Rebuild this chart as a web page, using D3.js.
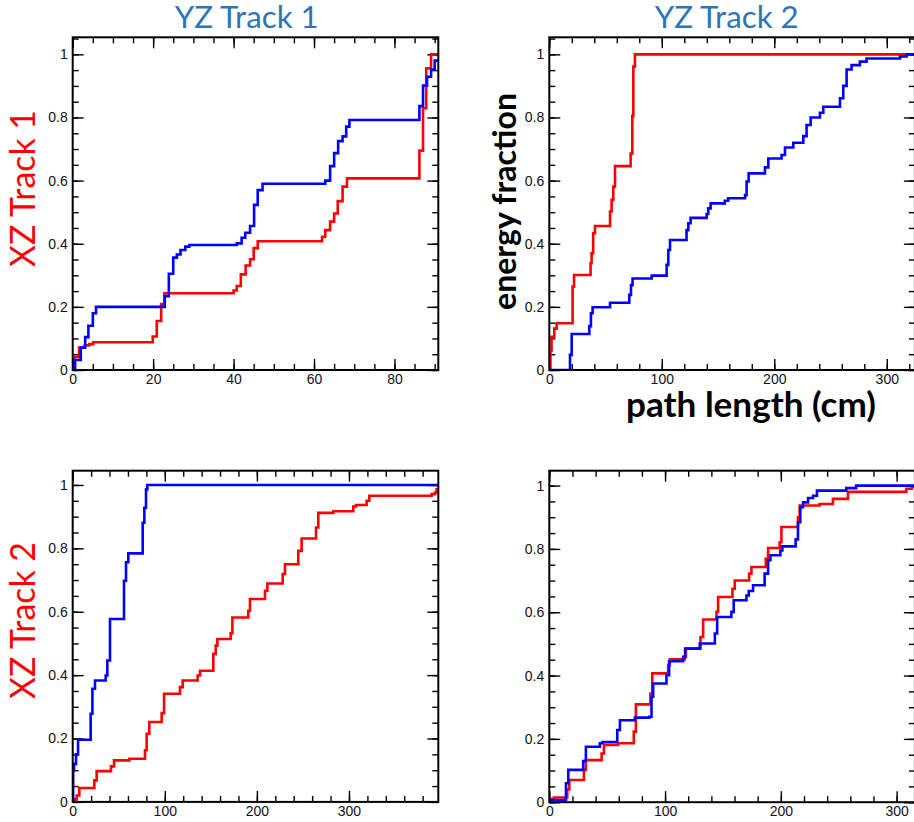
<!DOCTYPE html>
<html>
<head>
<meta charset="utf-8">
<script src="https://cdn.jsdelivr.net/npm/d3@7"></script>
<style>
  body { margin: 0; background: #fff; }
  svg { display: block; }
  .tick text { font-family: "Liberation Sans", Arial, sans-serif; font-size: 14px; fill: #111; }
  .tick line { stroke: #000; stroke-width: 1.4; }
</style>
</head>
<body>
<svg id="chart"></svg>
<script>
// cumulative energy fraction vs path length, step points [path length (cm), fraction]
// XZ track 1 / YZ track 1
const xz1yz1Red = [[0,0],[0.3,0.042],[1.6,0.071],[3.0,0.078],[4.1,0.082],[5.1,0.088],[19.9,0.106],[20.9,0.155],[22.0,0.209],[22.8,0.243],[40.0,0.252],[40.8,0.266],[41.8,0.303],[43.0,0.331],[44.1,0.351],[45.0,0.386],[46.0,0.408],[62.0,0.422],[62.8,0.443],[64.0,0.47],[65.0,0.496],[65.9,0.535],[67.1,0.581],[68.2,0.607],[86.2,0.695],[87.1,0.829],[87.9,0.956],[89.1,1.0],[92,1.0]];
const xz1yz1Blue = [[0,0],[0.6,0.032],[2.0,0.071],[3.1,0.104],[3.9,0.14],[5.0,0.18],[5.8,0.2],[22.9,0.234],[23.9,0.305],[25.0,0.356],[25.9,0.366],[26.8,0.38],[28.0,0.391],[29.0,0.396],[40.8,0.401],[42.0,0.419],[42.9,0.435],[44.1,0.456],[45.1,0.523],[46.0,0.57],[47.2,0.59],[62.8,0.6],[64.0,0.646],[65.0,0.687],[66.0,0.725],[67.1,0.74],[68.0,0.771],[68.8,0.792],[86.2,0.836],[87.1,0.901],[88.1,0.929],[89.1,0.952],[90.0,0.98],[92,0.98]];

// XZ track 1 / YZ track 2
const xz1yz2Red = [[0,0],[1.0,0.06],[2.0,0.105],[4.4,0.131],[6.5,0.148],[20.7,0.264],[22.0,0.301],[36.7,0.338],[37.6,0.37],[39.0,0.433],[40.6,0.456],[54.0,0.502],[55.4,0.539],[56.9,0.581],[58.4,0.646],[72.3,0.686],[73.8,0.805],[74.7,0.961],[76.1,1.0],[330,1.0]];
const xz1yz2Blue = [[0,0],[18.4,0.048],[19.9,0.114],[35.6,0.139],[37.0,0.18],[38.5,0.199],[54.0,0.213],[71.1,0.238],[72.6,0.269],[74.0,0.29],[91.0,0.299],[104.3,0.333],[105.8,0.38],[107.3,0.412],[122.0,0.443],[123.6,0.465],[125.6,0.482],[139.9,0.494],[141.3,0.512],[143.4,0.528],[156.0,0.536],[159.0,0.544],[174.0,0.554],[175.4,0.597],[177.2,0.623],[191.7,0.642],[194.7,0.67],[206.5,0.681],[209.5,0.705],[216.9,0.72],[225.8,0.741],[228.7,0.776],[232.3,0.8],[240.6,0.815],[243.6,0.834],[258.4,0.861],[261.3,0.9],[264.3,0.952],[268.7,0.966],[276.1,0.977],[282.0,0.987],[311.7,0.993],[317.6,1.0],[330,1.0]];

// XZ track 2 / YZ track 1
const xz2yz1Red = [[0,0],[2.5,0.008],[4.3,0.02],[7.2,0.044],[23.5,0.068],[26.0,0.097],[41.6,0.112],[44.9,0.131],[61.5,0.136],[78.5,0.163],[80.3,0.215],[83.2,0.252],[96.6,0.28],[99.2,0.341],[116.5,0.362],[119.4,0.383],[135.7,0.399],[138.3,0.414],[152.7,0.467],[155.3,0.493],[157.1,0.514],[171.5,0.532],[173.4,0.582],[190.7,0.603],[192.5,0.64],[208.8,0.666],[211.4,0.689],[228.0,0.719],[230.5,0.75],[245.0,0.792],[248.6,0.831],[264.2,0.866],[266.7,0.912],[283.0,0.917],[304.7,0.932],[307.6,0.937],[319.2,0.95],[322.1,0.966],[389.8,0.971],[393.4,0.976],[395.2,0.986],[400,0.986]];
const xz2yz1Blue = [[0,0],[0.5,0.1],[1.4,0.12],[3.6,0.15],[5.8,0.196],[19.5,0.278],[21.4,0.357],[24.2,0.383],[35.8,0.399],[37.6,0.446],[40.5,0.577],[55.7,0.698],[57.9,0.756],[60.4,0.784],[76.0,0.881],[77.8,0.928],[79.6,0.986],[81.0,1.0],[400,1.0]];

// XZ track 2 / YZ track 2
const xz2yz2Red = [[0,0],[2.0,0.01],[4.0,0.015],[15.5,0.04],[17.3,0.07],[29.9,0.102],[31.6,0.133],[45.2,0.154],[47.2,0.181],[59.5,0.186],[73.0,0.223],[74.8,0.309],[87.4,0.343],[88.9,0.407],[102.7,0.433],[104.1,0.451],[117.0,0.459],[118.0,0.485],[130.6,0.522],[132.9,0.577],[144.4,0.601],[145.8,0.648],[158.2,0.674],[160.2,0.7],[172.6,0.722],[174.6,0.743],[187.0,0.769],[189.0,0.803],[199.0,0.821],[200.5,0.869],[214.8,0.9],[216.3,0.937],[233.5,0.942],[245.0,0.958],[258.0,0.98],[308.3,0.99],[313,0.996],[320,0.996]];
const xz2yz2Blue = [[0,0.007],[14.4,0.06],[16.4,0.102],[29.3,0.13],[31.6,0.175],[43.7,0.186],[46.0,0.19],[58.7,0.228],[61.0,0.259],[73.9,0.267],[86.3,0.27],[88.3,0.333],[89.7,0.375],[101.2,0.401],[103.5,0.445],[115.6,0.459],[117.3,0.485],[130.0,0.501],[143.0,0.533],[145.0,0.585],[157.3,0.601],[159.3,0.638],[170.3,0.653],[172.3,0.667],[176.0,0.685],[186.0,0.722],[189.0,0.764],[191.0,0.78],[199.6,0.795],[201.3,0.808],[212.8,0.83],[214.8,0.884],[216.8,0.932],[219.2,0.947],[223.5,0.961],[227.8,0.968],[231.2,0.984],[256.5,0.992],[265.0,1.0],[320,1.0]];

// tick labels
const yTicks = [0, 0.2, 0.4, 0.6, 0.8, 1];
const xTicksShort = [0, 20, 40, 60, 80];
const xTicksLong = [0, 100, 200, 300];

const colTitles = ["YZ Track 1", "YZ Track 2"];
const rowTitles = ["XZ Track 1", "XZ Track 2"];

const width = 914, height = 822;

const svg = d3.select("#chart")
    .attr("width", width)
    .attr("height", height);

// panel frames (pixels) and axis ranges
const panels = [
    { left: 72.7,  top: 37.3,  w: 365.6, h: 332.7, xMax: 90.9,  yMax: 1.054, xTicks: xTicksShort, xMinor: 5,  red: xz1yz1Red, blue: xz1yz1Blue },
    { left: 549.3, top: 37.3,  w: 365.6, h: 332.7, xMax: 325,   yMax: 1.054, xTicks: xTicksLong,  xMinor: 20, red: xz1yz2Red, blue: xz1yz2Blue },
    { left: 72.7,  top: 470.7, w: 365.6, h: 331.2, xMax: 397,   yMax: 1.045, xTicks: xTicksLong,  xMinor: 20, red: xz2yz1Red, blue: xz2yz1Blue },
    { left: 549.3, top: 470.7, w: 365.6, h: 331.5, xMax: 315.8, yMax: 1.047, xTicks: xTicksLong,  xMinor: 20, red: xz2yz2Red, blue: xz2yz2Blue }
];

const yFmt = d => (d === 0 || d === 1) ? String(d) : d3.format(".1f")(d);

panels.forEach((p, i) => {
    const g = svg.append("g").attr("transform", `translate(${p.left},${p.top})`);

    const x = d3.scaleLinear().domain([0, p.xMax]).range([0, p.w]);
    const y = d3.scaleLinear().domain([0, p.yMax]).range([p.h, 0]);

    const xMinors = d3.range(0, p.xMax, p.xMinor);
    const yMinors = d3.range(0, p.yMax, 0.05);

    // minor ticks, all four sides, pointing inwards
    g.append("g").attr("transform", `translate(0,${p.h})`)
        .call(d3.axisBottom(x).tickValues(xMinors).tickSize(-6).tickFormat(""));
    g.append("g")
        .call(d3.axisTop(x).tickValues(xMinors).tickSize(-6).tickFormat(""));
    g.append("g")
        .call(d3.axisLeft(y).tickValues(yMinors).tickSize(-6).tickFormat(""));
    g.append("g").attr("transform", `translate(${p.w},0)`)
        .call(d3.axisRight(y).tickValues(yMinors).tickSize(-6).tickFormat(""));

    // major ticks with labels on bottom and left
    g.append("g").attr("transform", `translate(0,${p.h})`)
        .call(d3.axisBottom(x).tickValues(p.xTicks).tickSize(-11).tickPadding(4).tickFormat(d3.format("d")));
    g.append("g")
        .call(d3.axisTop(x).tickValues(p.xTicks).tickSize(-11).tickFormat(""));
    g.append("g")
        .call(d3.axisLeft(y).tickValues(yTicks).tickSize(-11).tickPadding(5).tickFormat(yFmt));
    g.append("g").attr("transform", `translate(${p.w},0)`)
        .call(d3.axisRight(y).tickValues(yTicks).tickSize(-11).tickFormat(""));

    g.selectAll(".domain").remove();

    // clip lines to the frame
    const clipId = "clip" + i;
    g.append("clipPath").attr("id", clipId)
        .append("rect").attr("width", p.w).attr("height", p.h);

    const line = d3.line()
        .x(d => x(d[0]))
        .y(d => y(d[1]))
        .curve(d3.curveStepAfter);

    const lines = g.append("g").attr("clip-path", `url(#${clipId})`);
    lines.append("path").datum(p.red)
        .attr("d", line)
        .attr("fill", "none")
        .attr("stroke", "#ff0000")
        .attr("stroke-width", 2.6);
    lines.append("path").datum(p.blue)
        .attr("d", line)
        .attr("fill", "none")
        .attr("stroke", "#0000ff")
        .attr("stroke-width", 2.6);

    // frame
    g.append("rect")
        .attr("width", p.w)
        .attr("height", p.h)
        .attr("fill", "none")
        .attr("stroke", "#000")
        .attr("stroke-width", 2);
});

// scale a label's font so that it spans the wanted length
function fitText(sel, target) {
    sel.style("font-size", "30px");
    const len = sel.node().getComputedTextLength();
    sel.style("font-size", (30 * target / len) + "px");
}

// column titles
[246.7, 726.7].forEach((cx, i) => {
    const t = svg.append("text")
        .attr("x", cx).attr("y", 28)
        .attr("text-anchor", "middle")
        .style("font-family", "Lato, 'Open Sans', sans-serif")
        .attr("fill", "#2e75b6")
        .text(colTitles[i]);
    fitText(t, 144);
});

// row titles
[188.5, 620.5].forEach((cy, i) => {
    const t = svg.append("text")
        .attr("transform", `translate(35,${cy}) rotate(-90)`)
        .attr("text-anchor", "middle")
        .style("font-family", "Lato, 'Open Sans', sans-serif")
        .attr("fill", "#ff0000")
        .text(rowTitles[i]);
    fitText(t, 157);
});

// axis titles
const yTitle = svg.append("text")
    .attr("transform", "translate(516,201.5) rotate(-90)")
    .attr("text-anchor", "middle")
    .style("font-family", "Lato, 'Open Sans', sans-serif")
    .style("font-weight", 700)
    .attr("fill", "#000")
    .text("energy fraction");
fitText(yTitle, 217);

const xTitle = svg.append("text")
    .attr("x", 751).attr("y", 417)
    .attr("text-anchor", "middle")
    .style("font-family", "Lato, 'Open Sans', sans-serif")
    .style("font-weight", 700)
    .attr("fill", "#000")
    .text("path length (cm)");
fitText(xTitle, 250);
</script>
</body>
</html>
